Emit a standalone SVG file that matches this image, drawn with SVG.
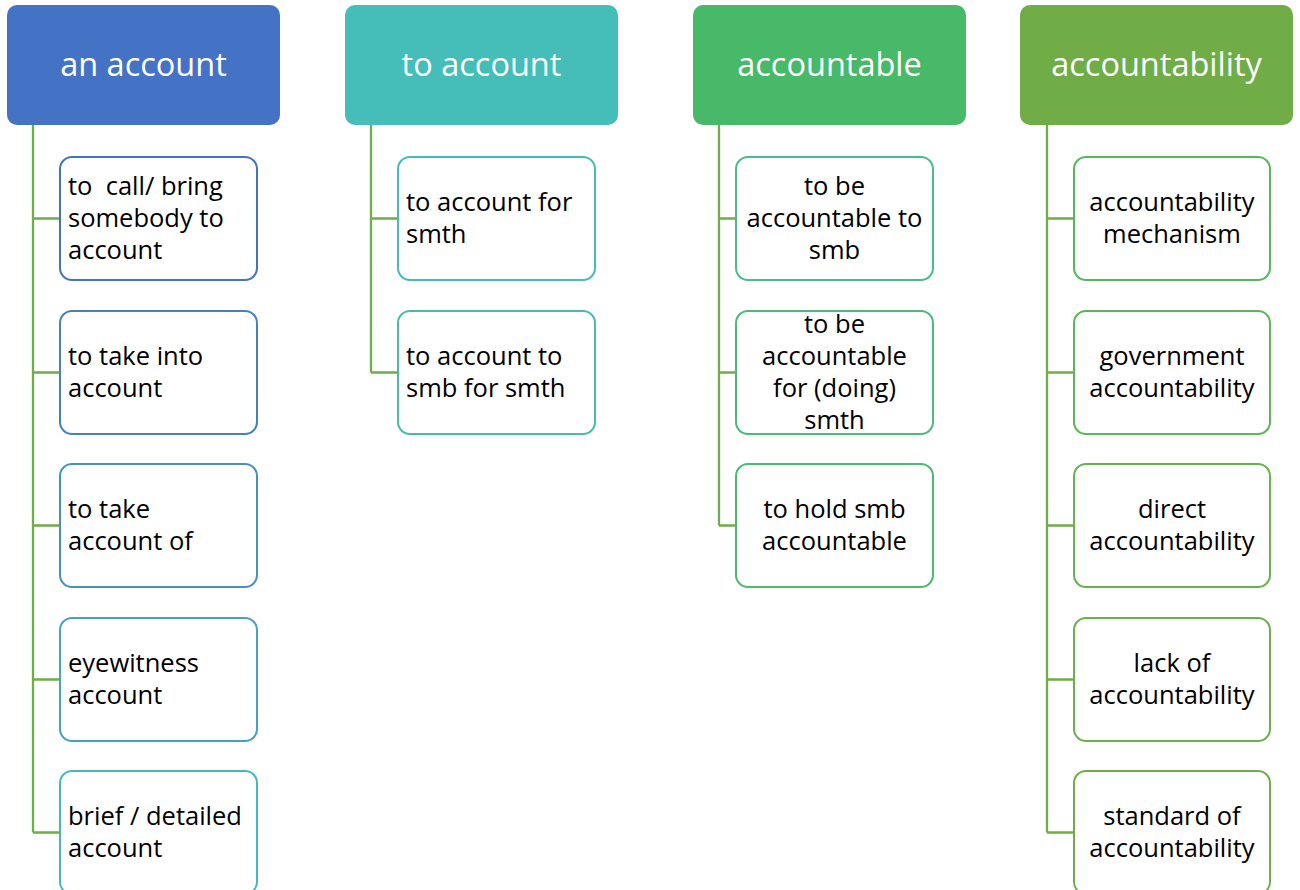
<svg xmlns="http://www.w3.org/2000/svg" width="1300" height="890" viewBox="0 0 1300 890">
<style>
.hdr{stroke:none}
.ht{font-family:"Open Sans","Liberation Sans",sans-serif;font-size:32.5px;fill:#ffffff;text-anchor:middle}
.box{fill:#ffffff;stroke-width:2}
.t{font-family:"Open Sans","Liberation Sans",sans-serif;font-size:25.5px;fill:#000000}
.c{text-anchor:middle}
.conn{fill:none;stroke:#70AD47;stroke-width:2.3}
</style>
<rect width="1300" height="890" fill="#ffffff"/>
<g id="connectors">
<path class="conn" d="M33,125 V832.5 M33,218.5 H60 M33,372.5 H60 M33,525.5 H60 M33,679.5 H60 M33,832.5 H60"/>
<path class="conn" d="M371,125 V372.5 M371,218.5 H398 M371,372.5 H398"/>
<path class="conn" d="M719,125 V525.5 M719,218.5 H736 M719,372.5 H736 M719,525.5 H736"/>
<path class="conn" d="M1047,125 V832.5 M1047,218.5 H1074 M1047,372.5 H1074 M1047,525.5 H1074 M1047,679.5 H1074 M1047,832.5 H1074"/>
</g>
<g id="h1"><rect class="hdr" x="7" y="5" width="273" height="120" rx="10" fill="#4472C4"/><text class="ht" x="143.5" y="76">an account</text></g>
<g id="h2"><rect class="hdr" x="345" y="5" width="273" height="120" rx="10" fill="#45BDB8"/><text class="ht" x="481.5" y="76">to account</text></g>
<g id="h3"><rect class="hdr" x="693" y="5" width="273" height="120" rx="10" fill="#48B869"/><text class="ht" x="829.5" y="76">accountable</text></g>
<g id="h4"><rect class="hdr" x="1020" y="5" width="273" height="120" rx="10" fill="#70AD47"/><text class="ht" x="1156.5" y="76">accountability</text></g>

<g id="a1"><rect class="box" x="60" y="157" width="197" height="123" rx="12" stroke="#4472C4"/><text class="t" x="68" y="195" xml:space="preserve">to  call/ bring</text><text class="t" x="68" y="227">somebody to</text><text class="t" x="68" y="259">account</text></g>
<g id="a2"><rect class="box" x="60" y="311" width="197" height="123" rx="12" stroke="#4680C3"/><text class="t" x="68" y="365">to take into</text><text class="t" x="68" y="397">account</text></g>
<g id="a3"><rect class="box" x="60" y="464" width="197" height="123" rx="12" stroke="#4791C1"/><text class="t" x="68" y="518">to take</text><text class="t" x="68" y="550">account of</text></g>
<g id="a4"><rect class="box" x="60" y="618" width="197" height="123" rx="12" stroke="#46A3C0"/><text class="t" x="68" y="672">eyewitness</text><text class="t" x="68" y="704">account</text></g>
<g id="a5"><rect class="box" x="60" y="771" width="197" height="123" rx="12" stroke="#45B8BE"/><text class="t" x="68" y="825">brief / detailed</text><text class="t" x="68" y="857">account</text></g>

<g id="b1"><rect class="box" x="398" y="157" width="197" height="123" rx="12" stroke="#45BDB5"/><text class="t" x="406" y="211">to account for</text><text class="t" x="406" y="243">smth</text></g>
<g id="b2"><rect class="box" x="398" y="311" width="197" height="123" rx="12" stroke="#46BDA8"/><text class="t" x="406" y="365">to account to</text><text class="t" x="406" y="397">smb for smth</text></g>

<g id="c1"><rect class="box" x="736" y="157" width="197" height="123" rx="12" stroke="#4ABC8C"/><text class="t c" x="834.5" y="195">to be</text><text class="t c" x="834.5" y="227">accountable to</text><text class="t c" x="834.5" y="259">smb</text></g>
<g id="c2"><rect class="box" x="736" y="311" width="197" height="123" rx="12" stroke="#4BBB7C"/><text class="t c" x="834.5" y="333">to be</text><text class="t c" x="834.5" y="365">accountable</text><text class="t c" x="834.5" y="397">for (doing)</text><text class="t c" x="834.5" y="429">smth</text></g>
<g id="c3"><rect class="box" x="736" y="464" width="197" height="123" rx="12" stroke="#4DBA6E"/><text class="t c" x="834.5" y="518">to hold smb</text><text class="t c" x="834.5" y="550">accountable</text></g>

<g id="d1"><rect class="box" x="1074" y="157" width="196" height="123" rx="12" stroke="#52BA5C"/><text class="t c" x="1172" y="211">accountability</text><text class="t c" x="1172" y="243">mechanism</text></g>
<g id="d2"><rect class="box" x="1074" y="311" width="196" height="123" rx="12" stroke="#5BB655"/><text class="t c" x="1172" y="365">government</text><text class="t c" x="1172" y="397">accountability</text></g>
<g id="d3"><rect class="box" x="1074" y="464" width="196" height="123" rx="12" stroke="#63B350"/><text class="t c" x="1172" y="518">direct</text><text class="t c" x="1172" y="550">accountability</text></g>
<g id="d4"><rect class="box" x="1074" y="618" width="196" height="123" rx="12" stroke="#6AB04B"/><text class="t c" x="1172" y="672">lack of</text><text class="t c" x="1172" y="704">accountability</text></g>
<g id="d5"><rect class="box" x="1074" y="771" width="196" height="123" rx="12" stroke="#70AD47"/><text class="t c" x="1172" y="825">standard of</text><text class="t c" x="1172" y="857">accountability</text></g>
</svg>
